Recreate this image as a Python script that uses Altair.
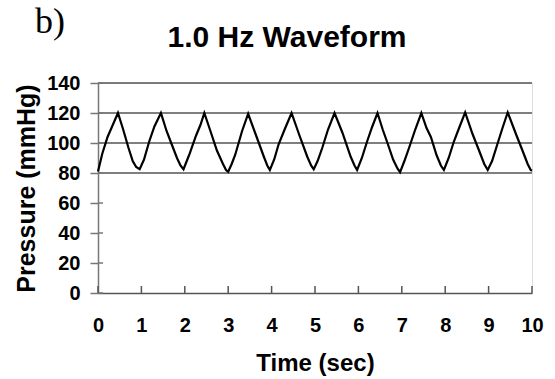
import altair as alt
import pandas as pd

# ---- data ----
time_sec = [
    0.00, 0.10, 0.22, 0.34, 0.46, 0.58, 0.70, 0.80, 0.88, 0.96,
    1.06, 1.18, 1.30, 1.45, 1.58, 1.70, 1.82, 1.90, 1.97,
    2.10, 2.26, 2.36, 2.45, 2.59, 2.74, 2.88, 2.95, 3.00,
    3.08, 3.16, 3.32, 3.46, 3.63, 3.82, 3.90, 3.96,
    4.06, 4.16, 4.30, 4.46, 4.63, 4.82, 4.91, 4.97,
    5.06, 5.17, 5.30, 5.45, 5.63, 5.82, 5.91, 5.97,
    6.08, 6.20, 6.32, 6.44, 6.56, 6.67, 6.80, 6.90, 6.96,
    7.06, 7.17, 7.31, 7.45, 7.57, 7.67, 7.80, 7.90, 7.97,
    8.08, 8.20, 8.32, 8.46, 8.63, 8.78, 8.90, 8.98,
    9.08, 9.20, 9.32, 9.44, 9.63, 9.78, 9.90, 9.97, 10.00,
]
pressure_mmhg = [
    81.0, 93.0, 104.0, 112.0, 120.0, 109.0, 97.0, 88.0, 84.0, 82.5,
    89.0, 101.0, 111.0, 120.0, 108.0, 99.0, 90.0, 85.0, 82.5,
    92.0, 105.0, 112.0, 120.0, 108.0, 95.0, 86.0, 82.0, 80.8,
    86.0, 92.0, 108.0, 119.5, 106.0, 91.0, 85.0, 82.0,
    89.0, 99.0, 109.0, 120.0, 106.0, 91.0, 85.0, 82.5,
    88.0, 97.0, 109.0, 120.0, 107.0, 91.0, 85.0, 82.0,
    90.0, 101.0, 111.0, 120.0, 109.0, 100.0, 89.0, 83.0, 80.5,
    88.0, 97.0, 109.0, 120.0, 110.0, 104.0, 92.0, 85.0, 82.0,
    90.0, 101.0, 110.0, 120.4, 106.0, 95.0, 86.0, 82.0,
    88.0, 99.0, 110.0, 120.4, 106.0, 95.0, 86.0, 82.0, 81.5,
]
x_tick_values = [0, 1, 2, 3, 4, 5, 6, 7, 8, 9, 10]
y_tick_values = [0, 20, 40, 60, 80, 100, 120, 140]
grid_levels = [80, 100, 120, 140]
panel_label = ["b)"]
chart_title = ["1.0 Hz Waveform"]

W, H = 434, 210
SANS = "Liberation Sans"
X_TITLE = "Time (sec)"
Y_TITLE = "Pressure (mmHg)"

x_scale = alt.Scale(domain=[0, 10], nice=False, zero=False)
y_scale = alt.Scale(domain=[0, 140], nice=False, zero=True)

x_axis = alt.Axis(
    values=x_tick_values,
    grid=False,
    ticks=False,
    tickSize=0,
    domainColor="#555555",
    domainWidth=1.5,
    labelFont=SANS,
    labelFontSize=20,
    labelFontWeight="bold",
    labelColor="black",
    labelBaseline="alphabetic",
    labelPadding=38,
    labelOverlap=False,
    labelFlush=False,
    labelBound=False,
    titleFont=SANS,
    titleFontSize=24,
    titleFontWeight="bold",
    titleColor="black",
    titleX=W / 2,
    titleY=77,
    titleAlign="center",
    titleBaseline="alphabetic",
)
y_axis = alt.Axis(
    values=y_tick_values,
    grid=False,
    tickSize=8,
    tickWidth=1.5,
    tickColor="#777777",
    domainColor="#777777",
    domainWidth=1.5,
    labelFont=SANS,
    labelFontSize=20,
    labelFontWeight="bold",
    labelColor="black",
    labelPadding=10,
    labelOverlap=False,
    labelFlush=False,
    labelBound=False,
    titleFont=SANS,
    titleFontSize=25,
    titleFontWeight="bold",
    titleColor="black",
    titleAngle=270,
    titleX=-71.5,
    titleY=H / 2,
    titleAlign="center",
    titleBaseline="middle",
)

wave_df = pd.DataFrame({"t": time_sec, "p": pressure_mmhg})

grid = alt.Chart(pd.DataFrame({"p": grid_levels})).mark_rule(
    color="#555555", strokeWidth=1.5
).encode(
    y=alt.Y("p:Q", scale=y_scale, axis=y_axis, title=Y_TITLE),
    x=alt.value(0),
    x2=alt.value(W),
)

y_inner_ticks = alt.Chart(pd.DataFrame({"p": y_tick_values})).mark_rule(
    color="#777777", strokeWidth=1.5
).encode(
    y=alt.Y("p:Q", scale=y_scale, axis=y_axis, title=Y_TITLE),
    x=alt.value(0),
    x2=alt.value(5),
)

x_inner_ticks = alt.Chart(pd.DataFrame({"t": x_tick_values})).mark_rule(
    color="#555555", strokeWidth=1.5
).encode(
    x=alt.X("t:Q", scale=x_scale, axis=x_axis, title=X_TITLE),
    y=alt.value(H),
    y2=alt.value(H - 7),
)

line = alt.Chart(wave_df).mark_line(color="black", strokeWidth=2.2).encode(
    x=alt.X("t:Q", scale=x_scale, axis=x_axis, title=X_TITLE),
    y=alt.Y("p:Q", scale=y_scale, axis=y_axis, title=Y_TITLE),
)

label_b = alt.Chart(pd.DataFrame({"s": panel_label})).mark_text(
    font="Liberation Serif", fontSize=36, align="left", baseline="alphabetic", color="black"
).encode(text="s:N", x=alt.value(-63), y=alt.value(-50))

title_txt = alt.Chart(pd.DataFrame({"s": chart_title})).mark_text(
    font=SANS, fontSize=30, fontWeight="bold", align="center", baseline="alphabetic", color="black"
).encode(text="s:N", x=alt.value(189), y=alt.value(-36))

chart = alt.layer(grid, y_inner_ticks, x_inner_ticks, line, label_b, title_txt).properties(
    width=W,
    height=H,
    autosize=alt.AutoSizeParams(type="none"),
    padding={"left": 98, "top": 83, "right": 23, "bottom": 86},
).configure_view(stroke=None).configure(background="white")

chart.save("out.html", embed_options={"renderer": "svg", "actions": False})
